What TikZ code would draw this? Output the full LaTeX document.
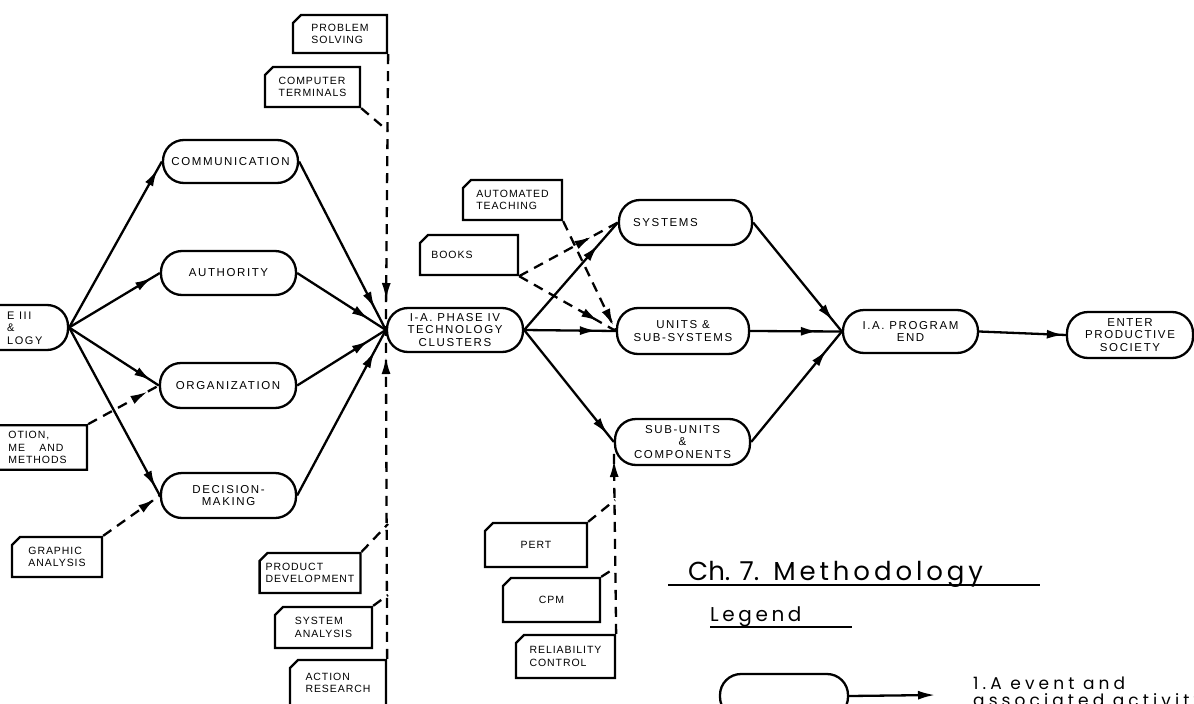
\documentclass[tikz,border=0pt]{standalone}
\usepackage{fontspec}
\usetikzlibrary{arrows.meta,decorations.markings,shapes.misc}
\newfontfamily\handfont[LetterSpace=14]{Liberation Sans}
\newfontfamily\cardfont[LetterSpace=9]{Liberation Sans}
\newfontfamily\notefont{Poppins}
\tikzset{
  ln/.style={line width=2.3pt},
  dsh/.style={ln, dash pattern=on 10pt off 7pt},
  sz/.style 2 args={minimum width=#1, minimum height=#2},
  pill/.style={draw, ln, rectangle, rounded corners=21pt, inner sep=1pt,
    align=center, font=\handfont\fontsize{11.5}{12.5}\selectfont},
  card/.style={draw, ln, chamfered rectangle, chamfered rectangle corners=north west,
    chamfered rectangle xsep=4pt, chamfered rectangle ysep=4pt, inner sep=2pt,
    align=left, font=\cardfont\fontsize{10.5}{12.5}\selectfont},
  handtext/.style={inner sep=0pt, font=\handfont\fontsize{11}{12.5}\selectfont},
  tipat/.style={postaction={decorate}, decoration={markings,
    mark=at position -#1 with {\arrow{Latex[length=17pt,width=9pt]}}}},
  note/.style={anchor=base west, inner sep=0pt},
}
\begin{document}
\begin{tikzpicture}[x=1pt,y=-1pt]
\clip (0,0) rectangle (1194,704);
\fill[white] (0,0) rectangle (1194,704);

% events (rounded boxes)
\node[pill, sz={136pt}{45pt}] (ph3) at (0,327.5) {};
\node[handtext, anchor=west, align=left] (ph3txt) at (7,328) {E III\\\&\\LOGY};
\node[pill, sz={135pt}{43pt}] (comm) at (230.5,161.5) {COMMUNICATION};
\node[pill, sz={135pt}{44pt}] (auth) at (228.5,273) {AUTHORITY};
\node[pill, sz={136pt}{45pt}] (org) at (228,385.5) {ORGANIZATION};
\node[pill, sz={135pt}{45pt}] (dec) at (228.5,495.5) {DECISION-\\MAKING};
\node[pill, sz={136pt}{44pt}] (tech) at (455,330) {I-A. PHASE IV\\TECHNOLOGY\\CLUSTERS};
\node[pill, sz={133pt}{45pt}] (sys) at (685.5,222.5) {SYSTEMS\hspace*{40pt}};
\node[pill, sz={132pt}{46pt}] (units) at (683,331) {UNITS \&\\SUB-SYSTEMS};
\node[pill, sz={135pt}{46pt}] (subu) at (682.5,442) {SUB-UNITS\\\&\\COMPONENTS};
\node[pill, sz={135pt}{43pt}] (pe) at (910.5,331.5) {I.A. PROGRAM\\END};
\node[pill, sz={126pt}{46pt}] (eps) at (1130,335) {ENTER\\PRODUCTIVE\\SOCIETY};

% activities (cards)
\node[card, sz={94pt}{38pt}] (ps) at (340,34) {PROBLEM\\SOLVING};
\node[card, sz={95pt}{40pt}] (ct) at (312.5,87) {COMPUTER\\TERMINALS};
\node[card, sz={99pt}{43pt}] (mo) at (37.5,447.5) {OTION,\\ME\quad\ AND\\METHODS};
\node[card, sz={90pt}{40pt}] (ga) at (57,557) {GRAPHIC\\ANALYSIS};
\node[card, sz={96pt}{40pt}] (pd) at (310,573) {PRODUCT\\DEVELOPMENT};
\node[card, sz={97pt}{41pt}] (sa) at (323.5,627.5) {SYSTEM\\ANALYSIS};
\node[card, sz={96pt}{46pt}] (ar) at (338,683) {ACTION\\RESEARCH};
\node[card, sz={99pt}{40pt}] (at) at (512.5,200) {AUTOMATED\\TEACHING};
\node[card, sz={98pt}{40pt}] (books) at (469,255) {BOOKS\hspace*{34pt}};
\node[card, sz={102pt}{44pt}] (pert) at (536,545) {PERT};
\node[card, sz={97pt}{44pt}] (cpm) at (551.5,600) {CPM};
\node[card, sz={99pt}{43pt}] (rc) at (565.5,656.5) {RELIABILITY\\CONTROL};

% junctions on the dashed lines
\coordinate (j1) at (388,131);
\coordinate (j2) at (388,524);
\coordinate (j3) at (388,595);
\coordinate (j4) at (615,500);
\coordinate (j5) at (615,568);

% solid activities
\foreach \t in {comm,auth,org,dec}
  \draw[ln, tipat=9pt] (ph3.east) -- (\t.west);
\foreach \s/\d in {comm/24pt,auth/20pt,org/20pt,dec/24pt}
  \draw[ln, tipat=\d] (\s.east) -- (tech.west);
\draw[ln, tipat=30pt] (tech.east) -- (sys.west);
\draw[ln, tipat=19pt] (tech.east) -- (units.west);
\draw[ln, tipat=10pt] (tech.east) -- (subu.west);
\foreach \s/\d in {sys/14pt,units/24pt,subu/24pt}
  \draw[ln, tipat=\d] (\s.east) -- (pe.west);
\draw[ln, tipat=2pt] (pe.east) -- (eps.west);

% dashed inputs
\draw[dsh, tipat=30pt] (ps.south east) -- (tech.west);
\draw[dsh] (ct.south east) -- (j1);
\draw[dsh, tipat=27pt] (ar.north east) -- (tech.west);
\draw[dsh] (pd.north east) -- (j2);
\draw[dsh] (sa.north east) -- (j3);
\draw[dsh, tipat=13pt] (mo.north east) -- (org.west);
\draw[dsh, tipat=6pt] (ga.north east) -- (dec.west);
\draw[dsh, tipat=6pt] (at.south east) -- (units.west);
\draw[dsh, tipat=30pt] (books.south east) -- (sys.west);
\draw[dsh, tipat=20pt] (books.south east) -- (units.west);
\draw[dsh] (pert.north east) -- (j4);
\draw[dsh] (cpm.north east) -- (j5);
\draw[dsh, tipat=10pt] (rc.north east) -- ([yshift=-8pt]subu.west);

% title and legend
\node[note, font=\notefont\fontsize{26}{26}\selectfont] (title) at (688,580)
  {Ch. 7.\hspace{14pt}\addfontfeature{LetterSpace=15}Methodology};
\draw[line width=1.6pt] (668,585) -- (1040,585);
\node[note, font=\notefont\fontsize{20}{20}\selectfont\addfontfeature{LetterSpace=18}] (legend) at (710,621) {Legend};
\draw[line width=1.6pt] (710,627) -- (852,627);
\node[pill, sz={128pt}{44pt}] (lgbox) at (784,696) {};
\coordinate (lgend) at (935,695);
\draw[ln, -{Latex[length=17pt,width=9pt]}] (lgbox.east) -- (lgend);
\node[note, font=\notefont\fontsize{17}{17}\selectfont\addfontfeature{LetterSpace=24}] (lgt1) at (973,689) {1.A event and};
\node[note, font=\notefont\fontsize{17}{17}\selectfont\addfontfeature{LetterSpace=24}] (lgt2) at (973,706) {associated activity};
\end{tikzpicture}
\end{document}
